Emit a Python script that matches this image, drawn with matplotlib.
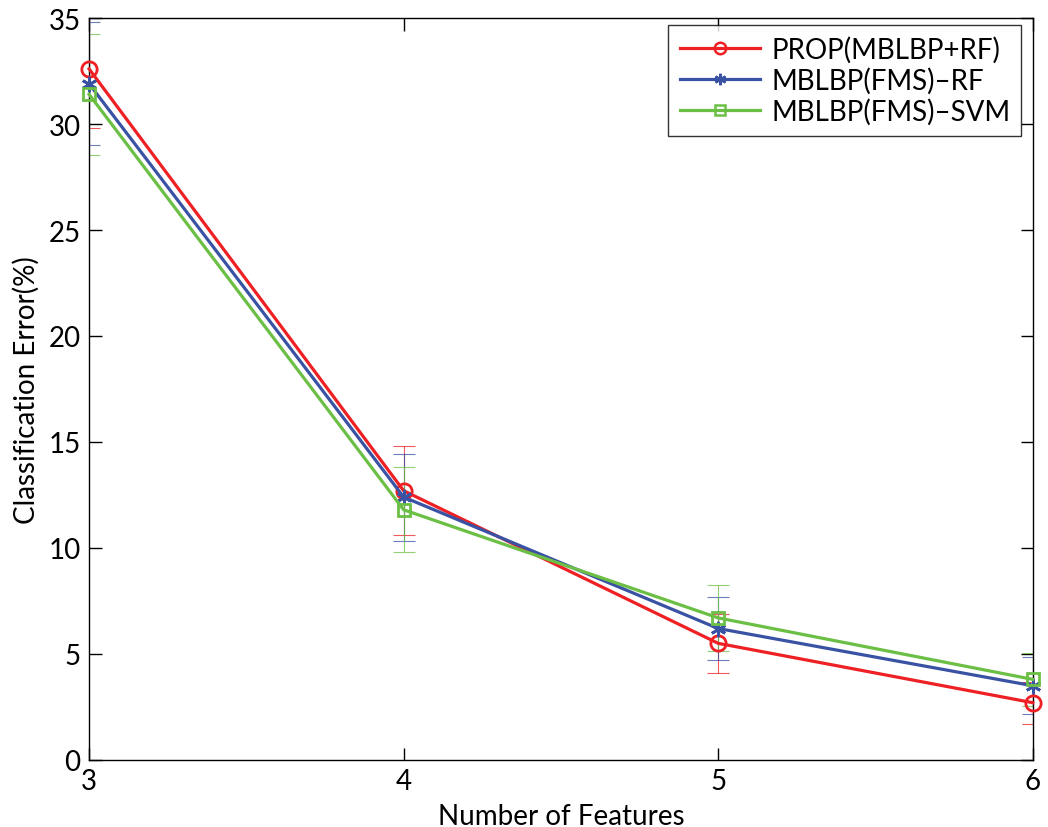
import matplotlib
matplotlib.use("Agg")
import matplotlib.pyplot as plt
from matplotlib.lines import Line2D

plt.rcParams['font.family'] = ['Lato', 'DejaVu Sans']

features = [3, 4, 5, 6]

prop_err = [32.6, 12.7, 5.5, 2.7]
prop_std = [2.8, 2.1, 1.4, 1.0]

rf_err = [31.9, 12.4, 6.2, 3.5]
rf_std = [2.9, 2.05, 1.5, 1.35]

svm_err = [31.4, 11.8, 6.7, 3.8]
svm_std = [2.85, 2.0, 1.55, 1.25]

labels = ['PROP(MBLBP+RF)', 'MBLBP(FMS)\u2013RF', 'MBLBP(FMS)\u2013SVM']
colors = ['#ee2024', '#3a52a4', '#6cbf45']
asterisk = (6, 2, 0)
markers = ['o', asterisk, 's']
msizes = [11, 11, 9]

fig = plt.figure(figsize=(10.48, 8.28), dpi=100)
ax = fig.add_axes([0.085, 0.081, 0.9005, 0.896])

series = [(prop_err, prop_std), (rf_err, rf_std), (svm_err, svm_std)]
handles = []
for (vals, errs), lab, col, mk, ms in zip(series, labels, colors, markers, msizes):
    ax.errorbar(features, vals, yerr=errs, fmt='none', ecolor=col,
                elinewidth=0.8, capsize=8, capthick=0.8, alpha=0.75)
    ax.plot(features, vals, color=col, lw=2.3, marker=mk, markersize=ms,
            markerfacecolor='none', markeredgecolor=col,
            markeredgewidth=2.0, clip_on=False, zorder=3)
    handles.append(Line2D([], [], color=col, lw=2.3, marker=mk,
                          markersize=ms * 0.75, markerfacecolor='none',
                          markeredgecolor=col, markeredgewidth=1.8))

ax.set_xlim(3, 6)
ax.set_ylim(0, 35)
ax.set_xticks(features)
ax.set_yticks(range(0, 36, 5))
ax.tick_params(direction='in', length=9, width=1, labelsize=20,
               top=True, right=True, pad=6)
for s in ax.spines.values():
    s.set_linewidth(1.0)

ax.set_xlabel('Number of Features', fontsize=20, labelpad=6)
ax.set_ylabel('Classification Error(%)', fontsize=20, labelpad=6)

leg = ax.legend(handles, labels, loc='upper right', fontsize=20, frameon=True,
                fancybox=False, edgecolor='black', handlelength=2.9,
                borderaxespad=0, labelspacing=0.15, handletextpad=0.4,
                borderpad=0.4, bbox_to_anchor=(0.988, 0.9906))
leg.get_frame().set_linewidth(1.0)

fig.savefig('out.png', dpi=100)
